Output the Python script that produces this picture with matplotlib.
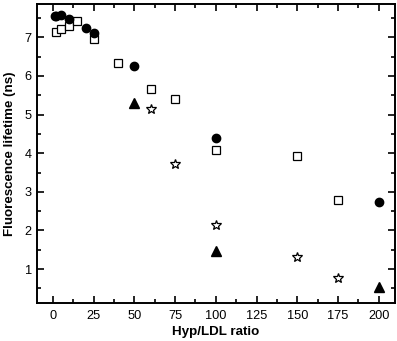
import matplotlib.pyplot as plt
from matplotlib.ticker import MultipleLocator

plt.rcParams['font.family'] = ['Liberation Sans', 'DejaVu Sans']

# --- data ---
circ_x = [1, 2, 5, 10, 20, 25, 50, 100, 200]
circ_y = [7.56, 7.54, 7.57, 7.47, 7.23, 7.12, 6.26, 4.39, 2.74]

sq_x = [2, 5, 10, 15, 25, 40, 60, 75, 100, 150, 175]
sq_y = [7.15, 7.22, 7.30, 7.41, 6.96, 6.34, 5.65, 5.41, 4.08, 3.92, 2.78]

tri_x = [50, 100, 200]
tri_y = [5.29, 1.47, 0.54]

star_x = [60, 75, 100, 150, 175]
star_y = [5.14, 3.72, 2.14, 1.32, 0.76]

fig = plt.figure(figsize=(3.97, 3.41), dpi=100)
ax = fig.add_axes([0.0924, 0.1123, 0.9026, 0.8757])

ax.plot(circ_x, circ_y, 'o', color='black', markersize=6, zorder=3)
ax.plot(sq_x, sq_y, 's', mfc='white', mec='black', mew=0.9, markersize=5.5, zorder=2)
ax.plot(tri_x, tri_y, '^', color='black', markersize=7)
ax.plot(star_x, star_y, '*', mfc='white', mec='black', mew=0.9, markersize=7.5)

ax.set_xlim(-10, 210)
ax.set_ylim(0.13, 7.86)
ax.xaxis.set_major_locator(MultipleLocator(25))
ax.xaxis.set_minor_locator(MultipleLocator(12.5))
ax.yaxis.set_major_locator(MultipleLocator(1))
ax.yaxis.set_minor_locator(MultipleLocator(0.5))

ax.tick_params(which='both', direction='in', top=True, right=True, labelsize=9.2, width=1.2)
ax.tick_params(which='major', length=5)
ax.tick_params(which='minor', length=3)
ax.tick_params(axis='x', pad=5)
for s in ax.spines.values():
    s.set_linewidth(1.4)

ax.set_xlabel('Hyp/LDL ratio', fontsize=9.6, fontweight='bold', labelpad=3)
ax.set_ylabel('Fluorescence lifetime (ns)', fontsize=9.6, fontweight='bold', labelpad=6)

fig.savefig('out.png', dpi=100)
